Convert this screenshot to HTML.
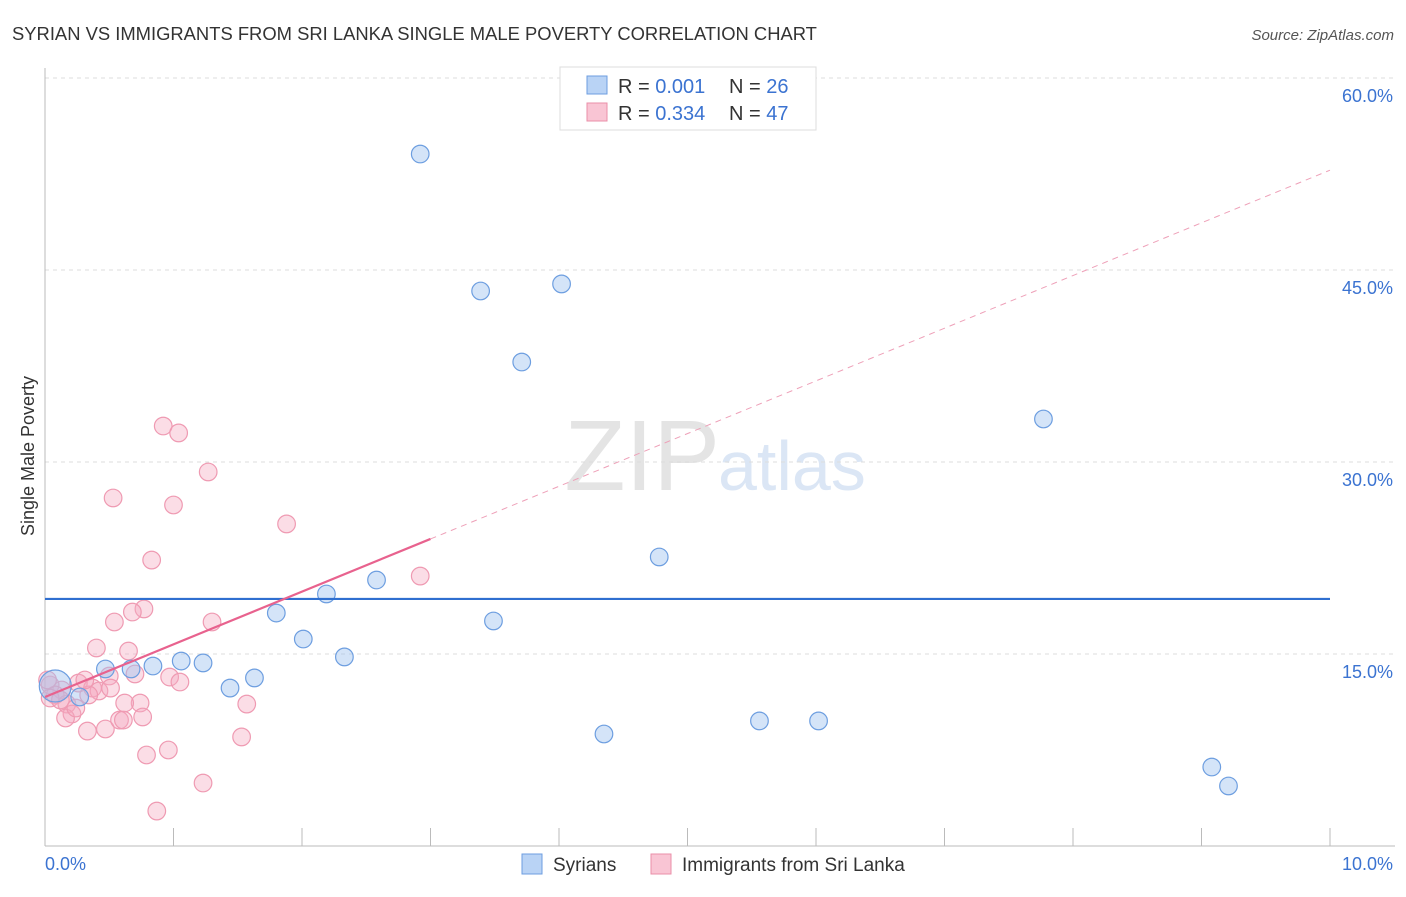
<!DOCTYPE html>
<html><head><meta charset="utf-8"><style>
body{margin:0;background:#fff;font-family:"Liberation Sans",sans-serif}
svg text{font-family:"Liberation Sans",sans-serif}
</style></head><body>
<svg id="chart" width="1406" height="892" xmlns="http://www.w3.org/2000/svg">
<text x="12" y="40" font-size="18.4" fill="#333">SYRIAN VS IMMIGRANTS FROM SRI LANKA SINGLE MALE POVERTY CORRELATION CHART</text>
<text x="1394" y="40" font-size="15" fill="#555" text-anchor="end" font-style="italic">Source: ZipAtlas.com</text>
<text x="720" y="490" font-size="100" fill="#e4e4e4" text-anchor="end" font-family="Liberation Serif">ZIP</text>
<text x="718" y="490" font-size="70" fill="#dbe6f5">atlas</text>
<g id="grid"></g><g id="marks"></g>
<text transform="translate(34,456) rotate(-90)" font-size="18" fill="#333" text-anchor="middle">Single Male Poverty</text>
<g>
<rect x="560" y="67" width="256" height="63" fill="#fff" stroke="#ddd"/>
<rect x="587" y="76" width="20" height="18" fill="#b9d3f5" stroke="#6d9ee0"/>
<rect x="587" y="103" width="20" height="18" fill="#f9c5d4" stroke="#ea8fa8"/>
<text x="618" y="93" font-size="20" fill="#333">R = <tspan fill="#3b73d1">0.001</tspan><tspan x="729">N = </tspan><tspan fill="#3b73d1">26</tspan></text>
<text x="618" y="120" font-size="20" fill="#333">R = <tspan fill="#3b73d1">0.334</tspan><tspan x="729">N = </tspan><tspan fill="#3b73d1">47</tspan></text>
</g>
<g>
<rect x="522" y="854" width="20" height="20" fill="#b9d3f5" stroke="#6d9ee0"/>
<text x="553" y="871" font-size="19" fill="#333">Syrians</text>
<rect x="651" y="854" width="20" height="20" fill="#f9c5d4" stroke="#ea8fa8"/>
<text x="682" y="871" font-size="19" fill="#333">Immigrants from Sri Lanka</text>
</g>
</svg>
<script>
const yTicks=[15,30,45,60];
const yTickLabels=["15.0%","30.0%","45.0%","60.0%"];
const xTickLabels=["0.0%","10.0%"];
const syrX=[2.92,3.39,4.02,3.71,7.77,4.78,2.58,2.19,1.80,3.49,2.01,2.33,1.06,0.84,1.23,0.67,0.47,1.44,1.63,0.27,0.08,4.35,5.56,6.02,9.08,9.21];
const syrY=[54.06,43.36,43.91,37.81,33.36,22.58,20.78,19.69,18.20,17.58,16.17,14.77,14.45,14.06,14.30,13.83,13.83,12.34,13.13,11.64,12.5,8.75,9.77,9.77,6.17,4.69];
const sriX=[0.92,1.04,1.27,0.53,1.00,1.88,0.83,2.92,0.77,0.68,0.54,1.30,0.40,0.65,0.50,0.70,0.97,1.05,0.26,0.37,0.42,0.34,0.13,0.04,0.08,0.17,0.21,0.16,0.33,0.47,0.58,0.61,0.74,0.62,0.76,1.57,1.53,0.79,0.96,1.23,0.87,0.04,0.02,0.12,0.24,0.51,0.31];
const sriY=[32.81,32.27,29.22,27.19,26.64,25.16,22.34,21.09,18.52,18.28,17.50,17.50,15.47,15.23,13.28,13.44,13.20,12.81,12.73,12.34,12.11,11.80,12.19,12.58,11.80,11.09,10.31,10.00,8.98,9.14,9.84,9.84,11.17,11.17,10.08,11.09,8.52,7.11,7.50,4.92,2.73,11.56,12.97,11.41,10.78,12.34,12.97];
const syrTrend=[19.3,19.3];
const sriTrend=[11.64,52.8];
const sriSolidEnd=3.0;
const NS="http://www.w3.org/2000/svg";
const X=v=>45+v*128.5, Y=v=>846-v*12.8;
function mk(t,a,p){const e=document.createElementNS(NS,t);for(const k in a)e.setAttribute(k,a[k]);p.appendChild(e);return e;}
const g=document.getElementById('grid'),m=document.getElementById('marks');
yTicks.forEach((t,i)=>{
 const l=mk('line',{x1:45,x2:1395,y1:Y(t),y2:Y(t),stroke:'#ddd','stroke-dasharray':'4,4'},g);
 
 
 const tx=mk('text',{x:1393,y:Y(t)+24,'font-size':18,fill:'#3b73d1','text-anchor':'end'},g);
 tx.textContent=yTickLabels[i];
 
 
});
const ax=mk('line',{x1:45,x2:45,y1:68,y2:846,stroke:'#bbb'},g);


const bx=mk('line',{x1:45,x2:1395,y1:846,y2:846,stroke:'#bbb'},g);


for(let k=1;k<=10;k++){const t=mk('line',{x1:X(k),x2:X(k),y1:828,y2:846,stroke:'#bbb'},g);
 
 }
[[0,'start',45],[10,'end',1393]].forEach((d,i)=>{const t=mk('text',{x:d[2],y:870,'font-size':18,fill:'#3b73d1','text-anchor':d[1]},g);t.textContent=xTickLabels[i];
 
 });
sriX.forEach((x,i)=>{const c=mk('circle',{cx:X(x),cy:Y(sriY[i]),r:8.8,fill:'rgba(246,170,192,0.4)',stroke:'#ef9ab2','stroke-width':1.2},m);
 
 });
syrX.forEach((x,i)=>{const c=mk('circle',{cx:X(x),cy:Y(syrY[i]),r:i==20?16:8.8,fill:'rgba(160,195,240,0.45)',stroke:'#6d9ee0','stroke-width':1.2},m);
 
 });
const l1=mk('line',{x1:X(0),x2:X(10),y1:Y(syrTrend[0]),y2:Y(syrTrend[1]),stroke:'#2f6fd0','stroke-width':2.2},m);


const f=x=>sriTrend[0]+(sriTrend[1]-sriTrend[0])*x/10;
const l2=mk('line',{x1:X(0),x2:X(sriSolidEnd),y1:Y(f(0)),y2:Y(f(sriSolidEnd)),stroke:'#e8628e','stroke-width':2.2},m);


const l3=mk('line',{x1:X(sriSolidEnd),x2:X(10),y1:Y(f(sriSolidEnd)),y2:Y(f(10)),stroke:'#eea0b8','stroke-width':1,'stroke-dasharray':'6,5'},m);


</script>
</body></html>
